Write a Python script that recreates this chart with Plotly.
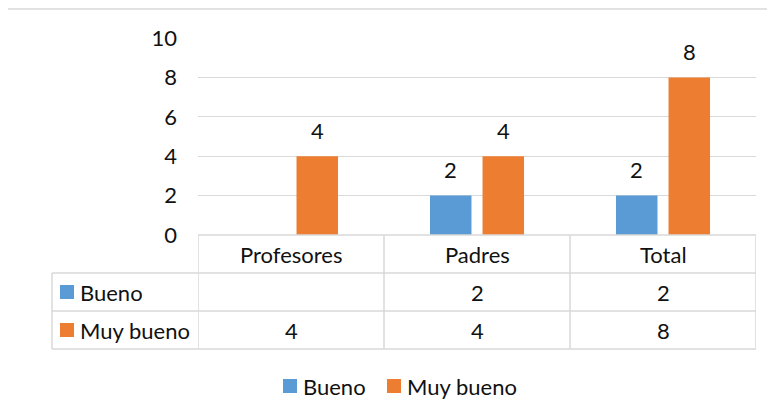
import plotly.graph_objects as go

# ---- data ----
categories = ["Profesores", "Padres", "Total"]
series_names = ["Bueno", "Muy bueno"]
bueno = [None, 2, 2]
muy_bueno = [4, 4, 8]
y_ticks = [0, 2, 4, 6, 8, 10]

# ---- styling / layout constants ----
W, H = 775, 419
OFF = 8  # page body margin
FONT = "Lato"
FS = 22
TXT = "#111111"
GRID = "#D9D9D9"
COLORS = ["#5B9BD5", "#ED7D31"]
BARGAP = 0.435
BARGROUPGAP = 0.21

PLOT_L, PLOT_R = 198, 756
PLOT_T, PLOT_B = 38, 235
ROW_H = 38
TABLE_L = 52


def px(x):
    return (x - OFF) / W


def py(y):
    return 1 - (y - OFF) / H


def txt(**kw):
    d = dict(showarrow=False, yanchor="middle", font=dict(family=FONT, size=FS, color=TXT))
    d.update(kw)
    return d


fig = go.Figure()
series_vals = [bueno, muy_bueno]
for name, vals, col in zip(series_names, series_vals, COLORS):
    fig.add_trace(go.Bar(x=list(range(len(categories))), y=vals, name=name,
                         marker=dict(color=col, line=dict(width=0)),
                         showlegend=False))

shapes = []
annotations = []

# data labels above bars
slot = (1 - BARGAP) / len(series_vals)
for si, vals in enumerate(series_vals):
    off = -(1 - BARGAP) / 2 + slot * (si + 0.5)
    for ci, v in enumerate(vals):
        if v is None:
            continue
        annotations.append(txt(x=ci + off, y=v, xref="x", yref="y", text=str(v),
                               xanchor="center", yshift=26))

# data table lines
line = dict(color=GRID, width=1.5)
n = len(categories)
shapes.append(dict(type="line", xref="x", yref="paper", x0=-0.5, x1=n - 0.5,
                   y0=py(PLOT_B), y1=py(PLOT_B), line=line))
for r in range(1, len(series_vals) + 2):
    yy = PLOT_B + r * ROW_H
    shapes.append(dict(type="line", xref="paper", yref="paper", x0=px(TABLE_L), x1=px(PLOT_R),
                       y0=py(yy), y1=py(yy), line=line))
for k in range(n + 1):
    shapes.append(dict(type="line", xref="x", yref="paper", x0=k - 0.5, x1=k - 0.5,
                       y0=py(PLOT_B), y1=py(PLOT_B + ROW_H * (len(series_vals) + 1)), line=line))
shapes.append(dict(type="line", xref="paper", yref="paper", x0=px(TABLE_L), x1=px(TABLE_L),
                   y0=py(PLOT_B + ROW_H), y1=py(PLOT_B + ROW_H * (len(series_vals) + 1)), line=line))

# category header
for ci, c in enumerate(categories):
    annotations.append(txt(x=ci, y=py(PLOT_B + ROW_H / 2), xref="x", yref="paper", text=c,
                           xanchor="center"))
# table rows
for si, (name, vals, col) in enumerate(zip(series_names, series_vals, COLORS)):
    yc = PLOT_B + ROW_H * (si + 1) + ROW_H / 2
    shapes.append(dict(type="rect", xref="paper", yref="paper", x0=px(60), x1=px(74),
                       y0=py(yc - 7), y1=py(yc + 7), fillcolor=col, line=dict(width=0)))
    annotations.append(txt(x=px(78), y=py(yc), xref="paper", yref="paper", text=name,
                           xanchor="left"))
    for ci, v in enumerate(vals):
        annotations.append(txt(x=ci, y=py(yc), xref="x", yref="paper",
                               text="" if v is None else str(v), xanchor="center"))

# legend (manual)
LEG_Y = 386
leg_x = [283, 387]
for name, col, lx in zip(series_names, COLORS, leg_x):
    shapes.append(dict(type="rect", xref="paper", yref="paper", x0=px(lx), x1=px(lx + 14),
                       y0=py(LEG_Y - 7), y1=py(LEG_Y + 7), fillcolor=col, line=dict(width=0)))
    annotations.append(txt(x=px(lx + 18), y=py(LEG_Y), xref="paper", yref="paper", text=name,
                           xanchor="left"))

# outer chart border (top and left visible)
shapes.append(dict(type="line", xref="paper", yref="paper", x0=px(7), x1=1.2, y0=py(9), y1=py(9),
                   line=dict(color=GRID, width=1.5)))
shapes.append(dict(type="line", xref="paper", yref="paper", x0=px(7), x1=px(7), y0=py(9), y1=-0.2,
                   line=dict(color=GRID, width=1.5)))

fig.update_layout(
    width=W, height=H,
    margin=dict(l=0, r=0, t=0, b=0, autoexpand=False),
    paper_bgcolor="white", plot_bgcolor="white",
    barmode="group", bargap=BARGAP, bargroupgap=BARGROUPGAP,
    font=dict(family=FONT, size=FS, color=TXT),
    xaxis=dict(domain=[px(PLOT_L), px(PLOT_R)], range=[-0.5, n - 0.5], automargin=False,
               showticklabels=False, showgrid=False, zeroline=False, showline=False,
               fixedrange=True),
    yaxis=dict(domain=[py(PLOT_B), py(PLOT_T)], range=[0, 10], tickvals=y_ticks, automargin=False,
               showgrid=True, gridcolor=GRID, gridwidth=1.3, zeroline=False, showline=False,
               ticklabelstandoff=20, tickfont=dict(family=FONT, size=FS, color=TXT),
               fixedrange=True),
    shapes=shapes, annotations=annotations,
)

fig.write_html("out.html", config={"displayModeBar": False})
